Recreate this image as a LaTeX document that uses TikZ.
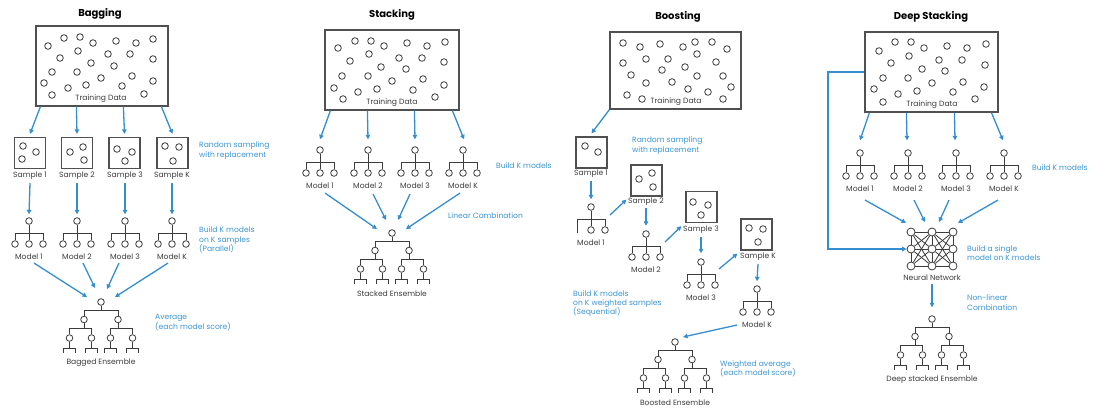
\documentclass[tikz,border=0pt]{standalone}
\usepackage{fontspec}
\setmainfont{Poppins}
\usetikzlibrary{arrows.meta,calc}
\definecolor{lineblue}{RGB}{52,142,208}
\definecolor{annblue}{RGB}{60,150,212}
\definecolor{ink}{RGB}{60,60,60}
\definecolor{boxcol}{RGB}{80,80,80}
\newcommand{\labfont}{\fontsize{7.6}{9.3}\selectfont}
\newcommand{\ttlfont}{\fontsize{10}{12}\selectfont\bfseries}
\tikzset{
 dot/.style={circle,draw=ink,line width=0.8pt,minimum size=6.6pt,inner sep=0pt},
 nnode/.style={circle,draw=ink,line width=0.8pt,minimum size=8pt,inner sep=0pt,fill=white},
 tl/.style={draw=ink,line width=0.8pt},
 dc/.style={draw=ink,line width=0.8pt},
 dbox/.style={draw=boxcol,line width=1.2pt,inner sep=0pt},
 sbox/.style={draw=boxcol,line width=1.2pt,inner sep=0pt,minimum size=31pt},
 lab/.style={font=\labfont,text=ink,inner sep=0pt},
 ann/.style={font=\labfont,text=annblue,inner sep=0pt,align=left,anchor=west},
 ttl/.style={font=\ttlfont,text=black,inner sep=0pt},
 arr/.style={draw=lineblue,line width=1.3pt,-{Triangle[length=4.5pt,width=4.5pt]}}
}
\newcommand{\MTree}[4]{%
 \node[dot] (#1-t) at (#2,#3) {};
 \node[dot] (#1-a) at (#2-14,#3+23) {};
 \node[dot] (#1-b) at (#2,#3+23) {};
 \node[dot] (#1-c) at (#2+14,#3+23) {};
 \draw[tl] (#1-t) -- (#1-b);
 \draw[tl] (#1-a) -- ($(#1-a)+(0,-11)$) -- ($(#1-c)+(0,-11)$) -- (#1-c);
 \node[lab] (#1) at (#2,#3+36) {#4};
}
\newcommand{\ETree}[4]{%
 \node[dot] (#1-t) at (#2,#3) {};
 \node[dot] (#1-l) at (#2-17,#3+17.5) {};
 \node[dot] (#1-r) at (#2+17,#3+17.5) {};
 \node[dot] (#1-ll) at (#2-31.5,#3+36) {};
 \node[dot] (#1-lr) at (#2-9.5,#3+36) {};
 \node[dot] (#1-rl) at (#2+9.5,#3+36) {};
 \node[dot] (#1-rr) at (#2+31.5,#3+36) {};
 \draw[tl] (#1-t) -- ($(#1-t)+(0,8.5)$);
 \draw[tl] (#1-l) -- ($(#1-l)+(0,-9)$) -- ($(#1-r)+(0,-9)$) -- (#1-r);
 \draw[tl] (#1-l) -- ($(#1-l)+(0,9)$);
 \draw[tl] (#1-r) -- ($(#1-r)+(0,9)$);
 \draw[tl] (#1-ll) -- ($(#1-ll)+(0,-9.5)$) -- ($(#1-lr)+(0,-9.5)$) -- (#1-lr);
 \draw[tl] (#1-rl) -- ($(#1-rl)+(0,-9.5)$) -- ($(#1-rr)+(0,-9.5)$) -- (#1-rr);
 \foreach \q in {ll,lr,rl,rr}{
   \draw[tl] (#1-\q) -- ($(#1-\q)+(0,10)$);
   \draw[tl] ($(#1-\q)+(-5.7,14.5)$) -- ($(#1-\q)+(-5.7,10)$) -- ($(#1-\q)+(5.7,10)$) -- ($(#1-\q)+(5.7,14.5)$);
 }
 \node[lab] (#1) at (#2,#3+61) {#4};
}
\begin{document}
\begin{tikzpicture}[x=1pt,y=-1pt]
\fill[white] (0,0) rectangle (1097,410);
\useasboundingbox (0,0) rectangle (1097,410);

%================ BAGGING =================
\node[ttl] (btitle) at (100,14) {Bagging};
\node[dbox,minimum width=132pt,minimum height=80pt] (bdata) at (102,66) {};
\foreach \x/\y in {48/46,64/38,80/37,93/43,116/41,136/43,153/39,60/58,78/51,108/54,130/54,153/59,91/63,114/66,52/72,77/72,101/78,132/76,153/81,44/83,68/88,86/85,122/86,144/94,52/95}
  \draw[dc] (\x,\y) circle[radius=3.3pt];
\node[lab] (bdl) at (101,99) {Training Data};
\node[sbox] (bs1) at (30,153) {};
\node[sbox] (bs2) at (77,153) {};
\node[sbox] (bs3) at (124.5,153) {};
\node[sbox] (bs4) at (172.5,153) {};
\foreach \x/\y in {23/146,36/152,22/159,70/152,83/147,84/160,117/149,132/152,125/161,165/146,179/147,173/161}
  \draw[dc] (\x,\y) circle[radius=3.3pt];
\node[lab] (bs1l) at (30,176) {Sample 1};
\node[lab] (bs2l) at (77,176) {Sample 2};
\node[lab] (bs3l) at (125,176) {Sample 3};
\node[lab] (bs4l) at (172,176) {Sample K};
\draw[arr] ($(bdata.south west)+(5,0)$) -- ($(bs1.north)+(0,-3)$);
\draw[arr] ($(bdata.south west)+(41,0)$) -- ($(bs2.north)+(0,-3)$);
\draw[arr] ($(bdata.south west)+(88,0)$) -- ($(bs3.north)+(0,-3)$);
\draw[arr] ($(bdata.south west)+(126,0)$) -- ($(bs4.north)+(0,-3)$);
\node[ann] (bann1) at (199,150.5) {Random sampling\\with replacement};
\MTree{bm1}{29}{221}{Model 1}
\MTree{bm2}{77}{221}{Model 2}
\MTree{bm3}{125}{221}{Model 3}
\MTree{bm4}{172}{221}{Model K}
\draw[arr] ($(bs1l.south)+(0,3)$) -- ($(bm1-t.north)+(0,-3)$);
\draw[arr] ($(bs2l.south)+(0,3)$) -- ($(bm2-t.north)+(0,-3)$);
\draw[arr] ($(bs3l.south)+(0,3)$) -- ($(bm3-t.north)+(0,-3)$);
\draw[arr] ($(bs4l.south)+(0,3)$) -- ($(bm4-t.north)+(0,-3)$);
\node[ann] (bann2) at (199,240) {Build K models\\on K samples\\(Parallel)};
\ETree{be}{101}{302}{Bagged Ensemble}
\draw[arr] ($(bm1.south)+(5,3)$) -- ($(be-t)+(-14,-5)$);
\draw[arr] ($(bm2.south)+(6,3)$) -- ($(be-t)+(-6,-14)$);
\draw[arr] ($(bm3.south)+(-6,3)$) -- ($(be-t)+(6,-13)$);
\draw[arr] ($(bm4.south)+(-4,3)$) -- ($(be-t)+(14,-5)$);
\node[ann] (bann3) at (155,322.5) {Average\\(each model score)};

%================ STACKING =================
\node[ttl] (stitle) at (392,15) {Stacking};
\node[dbox,minimum width=134pt,minimum height=80pt] (sdata) at (392,70) {};
\foreach \x/\y in {338/48,355/41,371/41,384/46,407/43,427/46,445/42,350/61,369/54,399/58,422/58,444/62,381/67,406/69,342/76,368/76,392/81,423/79,444/85,334/88,358/92,377/89,413/90,435/97,343/99}
  \draw[dc] (\x,\y) circle[radius=3.3pt];
\node[lab] (sdl) at (392,103) {Training Data};
\MTree{sm1}{320}{150}{Model 1}
\MTree{sm2}{368}{150}{Model 2}
\MTree{sm3}{415}{150}{Model 3}
\MTree{sm4}{463}{150}{Model K}
\draw[arr] ($(sdata.south west)+(6,0)$) -- ($(sm1-t.north)+(0,-7)$);
\draw[arr] ($(sdata.south west)+(43,0)$) -- ($(sm2-t.north)+(0,-7)$);
\draw[arr] ($(sdata.south west)+(90,0)$) -- ($(sm3-t.north)+(0,-7)$);
\draw[arr] ($(sdata.south west)+(128,0)$) -- ($(sm4-t.north)+(1,-7)$);
\node[ann] (sann1) at (496,166) {Build K models};
\ETree{se}{392}{233}{Stacked Ensemble}
\draw[arr] ($(sm1.south)+(5,4)$) -- ($(se-t)+(-15,-4)$);
\draw[arr] ($(sm2.south)+(5,5)$) -- ($(se-t)+(-6,-13)$);
\draw[arr] ($(sm3.south)+(-5,5)$) -- ($(se-t)+(6,-13)$);
\draw[arr] ($(sm4.south)+(-3,4)$) -- ($(se-t)+(14,-4)$);
\node[ann] (sann2) at (448,216) {Linear Combination};

%================ BOOSTING =================
\node[ttl] (ktitle) at (678,17) {Boosting};
\node[dbox,minimum width=131pt,minimum height=77pt] (kdata) at (675.5,70.5) {};
\foreach \x/\y in {623/43,640/47,660/44,683/47,695/42,712/42,727/49,623/63,646/59,668/59,697/54,716/62,662/70,685/67,631/75,646/83,672/82,697/76,723/76,627/95,642/99,688/89,708/92,731/87,723/99}
  \draw[dc] (\x,\y) circle[radius=3.3pt];
\node[lab] (kdl) at (676,102) {Training Data};
\node[sbox] (ks1) at (591.5,152.5) {};
\foreach \x/\y in {585/146,598/152} \draw[dc] (\x,\y) circle[radius=3.3pt];
\node[lab] (ks1l) at (591,174) {Sample 1};
\draw[arr] (kdata.south west) -- ($(ks1.north)+(0,-3)$);
\node[ann] (kann1) at (632,145.5) {Random sampling\\with replacement};
% model 1 (left leaf without circle)
\node[dot] (km1-t) at (591,207) {};
\node[dot] (km1-b) at (591,230) {};
\node[dot] (km1-c) at (605,230) {};
\coordinate (km1-a) at (577,233);
\draw[tl] (km1-t) -- (km1-b);
\draw[tl] (km1-a) -- (577,219) -- ($(km1-c)+(0,-11)$) -- (km1-c);
\node[lab] (km1) at (591,243) {Model 1};
\draw[arr] ($(ks1l.south)+(0,3)$) -- ($(km1-t.north)+(0,-4)$);
% sample 2
\node[sbox] (ks2) at (646.5,180.5) {};
\foreach \x/\y in {639/179,652/173,653/187} \draw[dc] (\x,\y) circle[radius=3.3pt];
\node[lab] (ks2l) at (646,202) {Sample 2};
\draw[arr] ($(km1-t)+(19,8)$) -- ($(ks2.south west)+(-4,3)$);
\MTree{km2}{646}{234}{Model 2}
\draw[arr] ($(ks2l.south)+(0,2)$) -- ($(km2-t.north)+(0,-4.5)$);
% sample 3
\node[sbox] (ks3) at (701.5,207) {};
\foreach \x/\y in {693/202,708/205,701/215} \draw[dc] (\x,\y) circle[radius=3.3pt];
\node[lab] (ks3l) at (701,230) {Sample 3};
\draw[arr] ($(km2-t)+(19,8)$) -- ($(ks3.south west)+(-4,3)$);
\MTree{km3}{701}{262}{Model 3}
\draw[arr] ($(ks3l.south)+(0,3)$) -- ($(km3-t.north)+(0,-5)$);
% sample K
\node[sbox] (ks4) at (756.5,234.5) {};
\foreach \x/\y in {749/228,763/229,758/242} \draw[dc] (\x,\y) circle[radius=3.3pt];
\node[lab] (ks4l) at (758,257) {Sample K};
\draw[arr] ($(km3-t)+(18,7)$) -- ($(ks4.south west)+(-3,3)$);
\MTree{km4}{757}{289}{Model K}
\draw[arr] ($(ks4l.south)+(0,3)$) -- ($(km4-t.north)+(0,-4)$);
\node[ann] (kann2) at (573,303.5) {Build K models\\on K weighted samples\\(Sequential)};
\ETree{ke}{675}{342}{Boosted Ensemble}
\draw[arr] ($(km4-t)+(-20,36)$) -- ($(ke-t)+(8,-5)$);
\node[ann] (kann3) at (720,368.5) {Weighted average\\(each model score)};

%================ DEEP STACKING =================
\node[ttl] (dtitle) at (931,17) {Deep Stacking};
\node[dbox,minimum width=133pt,minimum height=80pt] (ddata) at (931.5,72) {};
\foreach \x/\y in {879/51,895/42,911/42,924/48,947/46,967/48,986/44,891/63,909/56,939/60,962/60,985/65,922/69,945/71,883/78,908/78,932/83,963/82,984/87,874/89,898/94,917/91,953/92,975/99,883/102}
  \draw[dc] (\x,\y) circle[radius=3.3pt];
\node[lab] (ddl) at (932,105) {Training Data};
\MTree{dm1}{860}{153}{Model 1}
\MTree{dm2}{908}{153}{Model 2}
\MTree{dm3}{956}{153}{Model 3}
\MTree{dm4}{1004}{153}{Model K}
\draw[arr] ($(ddata.south west)+(5,0)$) -- ($(dm1-t.north)+(0,-9)$);
\draw[arr] ($(ddata.south west)+(42,0)$) -- ($(dm2-t.north)+(-1,-9)$);
\draw[arr] ($(ddata.south west)+(90,0)$) -- ($(dm3-t.north)+(-1,-9)$);
\draw[arr] ($(ddata.south west)+(127,0)$) -- ($(dm4-t.north)+(-1,-9)$);
\node[ann] (dann1) at (1032,168) {Build K models};
% neural network
\foreach \c/\x in {1/911,2/932,3/953}
  \foreach \r/\y in {1/232,2/249,3/266}
    \node[nnode] (n\c\r) at (\x,\y) {};
\foreach \i in {1,2,3}{
  \foreach \j in {1,2,3}{
    \draw[tl] (n1\i) -- (n2\j);
    \draw[tl] (n2\i) -- (n3\j);
  }
}
\foreach \c in {1,2,3}{
  \draw[tl] (n\c1) -- (n\c2);
  \draw[tl] (n\c2) -- (n\c3);
}
\node[lab] (nnl) at (932,278) {Neural Network};
\draw[arr] ($(dm1.south)+(5,8)$) -- ($(n11)+(-5,-9)$);
\draw[arr] ($(dm2.south)+(6,8)$) -- ($(n21)+(-7,-10)$);
\draw[arr] ($(dm3.south)+(-7,8)$) -- ($(n21)+(7,-10)$);
\draw[arr] ($(dm4.south)+(-6,8)$) -- ($(n31)+(5,-9)$);
\coordinate (fbk) at (828,249);
\draw[arr] (ddata.west) -| (fbk) |- (n12);
\node[ann] (dann2) at (967,253) {Build a single\\model on K models};
\ETree{de}{932}{319}{Deep stacked Ensemble}
\draw[arr] ($(nnl.south)+(0,3)$) -- ($(de-t.north)+(0,-8)$);
\node[ann] (dann3) at (967,302.5) {Non-linear\\Combination};
\end{tikzpicture}
\end{document}
